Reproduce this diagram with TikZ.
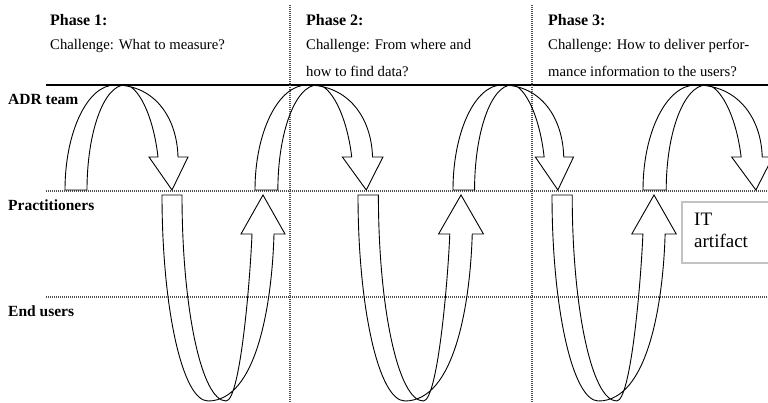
\documentclass[tikz,border=0pt]{standalone}
\usepackage{fontspec}
\setmainfont{Liberation Serif}
\usepackage{tikz}
\definecolor{gridgray}{RGB}{80, 80, 80}
\definecolor{boxgray}{RGB}{195, 195, 195}

\begin{document}
\begin{tikzpicture}[x=1pt, y=1pt,
  blockarrow/.style={draw=black, line width=0.9pt, line join=miter},
  laneline/.style={draw=gridgray, line width=2.2pt, dash pattern=on 1pt off 1pt},
  phasetitle/.style={anchor=base west, inner sep=0pt, font=\fontsize{16}{27}\selectfont\bfseries},
  challenge/.style={anchor=base west, inner sep=0pt, align=left, font=\fontsize{14.7}{27}\selectfont},
  lanelabel/.style={anchor=base west, inner sep=0pt, font=\fontsize{15.5}{18}\selectfont\bfseries}]
\useasboundingbox (0,0) rectangle (768,403);

% Lanes
\draw[line width=1.6pt] (46,318) -- (768,318);
\draw[laneline] (46,212) -- (768,212);
\draw[laneline] (46,106) -- (768,106);

% Phase separators
\draw[laneline] (290,398) -- (290,0);
\draw[laneline] (532,398) -- (532,0);

% Phase labels (base = last line of the text)
\node[phasetitle] (ph1) at (50,377) {Phase 1:};
\node[phasetitle] (ph2) at (306,377) {Phase 2:};
\node[phasetitle] (ph3) at (548,377) {Phase 3:};
\node[challenge] (ch1) at (50,353) {Challenge: What to measure?};
\node[challenge] (ch2) at (306,326) {Challenge: From where and\\how to find data?};
\node[challenge] (ch3) at (548,326) {Challenge: How to deliver perfor-\\mance information to the users?};

% Lane labels
\node[lanelabel] (adr) at (8,298) {ADR team};
\node[lanelabel] (prac) at (8,192) {Practitioners};
\node[lanelabel] (endu) at (8,86) {End users};

% Arcs inside the ADR team lane
\foreach \f/\s in {65/1, 255/1.04, 453/0.98, 643/1.055} {
  \begin{scope}[shift={(\f,0)}, xscale=\s]
    \draw[blockarrow] (0,213) arc[start angle=180, end angle=90, x radius=50, y radius=105]
      .. controls (90,318) and (112,285) .. (113,246)
      -- (123,246) -- (107,213) -- (84,246) -- (93,246)
      .. controls (88,290) and (72,318) .. (60,318)
      arc[start angle=90, end angle=180, x radius=38, y radius=105]
      -- cycle;
  \end{scope}
}

% Loops down to the end users
\foreach \f/\s in {162/1, 358/1.02, 552/1.01} {
  \begin{scope}[shift={(\f,0)}, xscale=\s]
    \draw[blockarrow] (0,208) arc[start angle=180, end angle=270, x radius=46, y radius=206]
      .. controls (95,2) and (110,100) .. (112,169)
      -- (123,169) -- (101,208) -- (79,169) -- (90,169)
      .. controls (88,120) and (78,2) .. (64,2)
      arc[start angle=270, end angle=180, x radius=44, y radius=206]
      -- cycle;
  \end{scope}
}

% IT artifact box
\draw[boxgray, line width=1.2pt] (772,201) -- (682,201) -- (682,140) -- (772,140);
\node[anchor=base west, inner sep=0pt, align=left, font=\fontsize{19}{22}\selectfont] (itart) at (694,155) {IT\\artifact};
\end{tikzpicture}
\end{document}
